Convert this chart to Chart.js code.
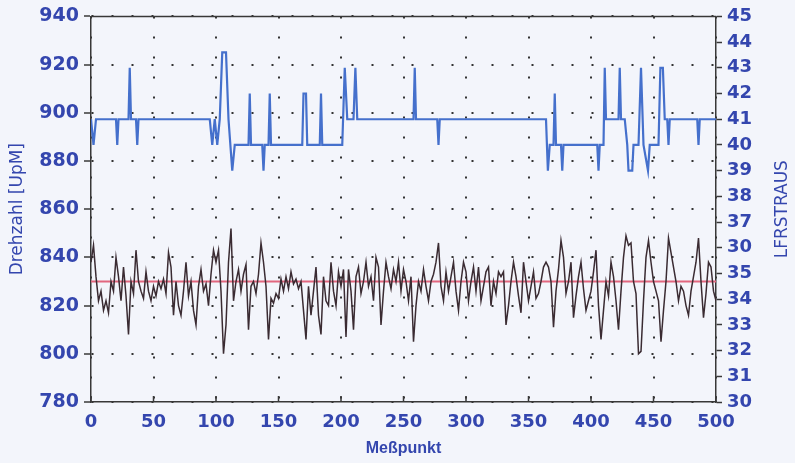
<!DOCTYPE html>
<html>
<head>
<meta charset="utf-8">
<script src="https://cdn.jsdelivr.net/npm/chart.js@4.4.0/dist/chart.umd.min.js"></script>
<style>
  html, body { margin: 0; padding: 0; background: #f3f5fb; }
  #wrap { width: 795px; height: 463px; }
</style>
</head>
<body>
<div id="wrap"><canvas id="rpmChart" width="795" height="463"></canvas></div>
<script>
// --- DATA ---
// Drehzahl, read every 2nd Meßpunkt (0, 2, 4 ... 500)
const sampleStep = 2;
const drehzahl = [
  838, 845, 832, 822, 826, 818, 822, 817, 830, 826, 840, 832, 822, 836, 824, 808, 830, 825, 843, 830, 826, 823, 834, 826, 822, 828,
  824, 830, 827, 831, 825, 842, 836, 816, 830, 820, 816, 826, 838, 824, 830, 818, 812, 828, 835, 826, 829, 820, 833, 843, 838,
  843, 826, 800, 812, 838, 852, 822, 830, 835, 826, 833, 837, 810, 828, 830, 825, 833, 846, 838, 828, 806, 823, 821, 825, 823,
  831, 826, 832, 827, 834, 829, 831, 827, 830, 818, 806, 828, 816, 826, 836, 816, 808, 832, 822, 820, 838, 826, 820, 834, 828,
  835, 807, 835, 826, 810, 832, 836, 825, 830, 838, 828, 832, 822, 840, 836, 812, 826, 838, 832, 827, 835, 830, 838, 826, 835,
  830, 822, 832, 805, 820, 830, 826, 835, 828, 822, 830, 833, 838, 846, 828, 822, 834, 826, 832, 838, 826, 818, 830, 838, 834,
  822, 830, 836, 826, 836, 822, 828, 834, 836, 820, 830, 825, 834, 832, 834, 812, 820, 830, 838, 832, 824, 817, 838, 830, 822,
  828, 834, 823, 825, 830, 836, 838, 836, 830, 811, 826, 835, 847, 840, 825, 830, 838, 815, 824, 832, 838, 827, 818, 822, 826,
  834, 843, 820, 806, 818, 830, 824, 838, 832, 822, 810, 826, 840, 849, 845, 846, 830, 825, 800, 801, 822, 840, 847, 838, 830,
  826, 822, 805, 818, 830, 848, 842, 836, 830, 822, 828, 826, 820, 816, 826, 832, 838, 848, 830, 815, 825, 838, 836, 826, 822
];
const drehzahlMittel = 830;

// LFRSTRAUS: Meßpunkt / Stufe at each change
const lfrX = [0, 2, 4, 20, 21, 22, 30, 31, 32, 36, 37, 38, 95, 97, 99, 101, 103, 105, 108, 110, 113, 115,
  126, 127, 128, 137, 138, 139, 142, 143, 144, 169, 170, 172, 173, 183, 184, 185, 201, 203, 205,
  210, 211.5, 213, 258, 259, 260, 277, 278, 279, 364, 365.5, 367, 370, 371, 372, 376, 377, 378,
  405, 406, 407, 410, 411, 412, 422, 423, 424, 427, 429, 430, 433, 434, 438, 440, 442, 445.6, 447,
  454, 455.5, 457.5, 459, 461, 462, 463, 485, 486, 487, 500];
const lfrY = [41, 40, 41, 41, 40, 41, 41, 43, 41, 41, 40, 41, 41, 40, 41, 40, 41, 43.6, 43.6, 41, 39, 40,
  40, 42, 40, 40, 39, 40, 40, 42, 40, 40, 42, 42, 40, 40, 42, 40, 40, 43, 41,
  41, 43, 41, 41, 43, 41, 41, 40, 41, 41, 39, 40, 40, 42, 40, 40, 39, 40,
  40, 39, 40, 40, 43, 41, 41, 43, 41, 41, 40, 39, 39, 40, 40, 43, 40, 39, 40,
  40, 43, 43, 41, 41, 40, 41, 41, 40, 41, 41];

// Achsen
const xTickValues = [0, 50, 100, 150, 200, 250, 300, 350, 400, 450, 500];
const rightTickLabels = ["30", "31", "32", "33", "34", "35", "30", "37", "38", "39", "40", "41", "42", "43", "44", "45"];
const leftTitle = "Drehzahl [UpM]";
const rightTitle = "LFRSTRAUS";
const bottomTitle = "Meßpunkt";

const blueText = "#3446ae";
const frameColor = "#383838";

// frame top line, inward x ticks and the axis titles
const framePlugin = {
  id: "frame",
  afterDraw(chart) {
    const { ctx, chartArea: a, scales } = chart;
    ctx.save();
    ctx.strokeStyle = frameColor;
    ctx.lineWidth = 1.5;
    ctx.beginPath();
    ctx.moveTo(a.left, a.top);
    ctx.lineTo(a.right, a.top);
    xTickValues.forEach((v) => {
      const px = scales.x.getPixelForValue(v);
      ctx.moveTo(px, a.bottom);
      ctx.lineTo(px, a.bottom - 6);
    });
    ctx.stroke();

    ctx.fillStyle = blueText;
    ctx.textAlign = "center";
    ctx.textBaseline = "middle";
    const midY = (a.top + a.bottom) / 2;
    ctx.font = "17px 'DejaVu Sans'";
    ctx.save();
    ctx.translate(18, midY);
    ctx.rotate(-Math.PI / 2);
    ctx.fillText(leftTitle, 0, 0);
    ctx.restore();
    ctx.save();
    ctx.translate(783, midY);
    ctx.rotate(-Math.PI / 2);
    ctx.fillText(rightTitle, 0, 0);
    ctx.restore();
    ctx.font = "bold 16px 'Liberation Sans'";
    ctx.fillText(bottomTitle, (a.left + a.right) / 2, 449);
    ctx.restore();
  },
};

document.addEventListener("DOMContentLoaded", () => {
  const ctx = document.getElementById("rpmChart");

  const drehzahlPts = drehzahl.map((v, i) => ({ x: i * sampleStep, y: v }));
  const lfrPts = lfrX.map((x, i) => ({ x: x, y: lfrY[i] }));
  const mittelPts = [{ x: 0, y: drehzahlMittel }, { x: 500, y: drehzahlMittel }];

  const tickFont = { family: "'DejaVu Sans'", weight: "bold", size: 19 };
  const gridDots = { color: "#333333", lineWidth: 2 };

  new Chart(ctx, {
    type: "line",
    data: {
      datasets: [
        { label: "Drehzahl", data: drehzahlPts, yAxisID: "y", borderColor: "#3a2b32", borderWidth: 1.5, pointRadius: 0, tension: 0 },
        { label: "LFRSTRAUS", data: lfrPts, yAxisID: "y1", borderColor: "#4570cc", borderWidth: 2.2, pointRadius: 0, tension: 0 },
        { label: "Mittel", data: mittelPts, yAxisID: "y", borderColor: "#e2677f", borderWidth: 2, pointRadius: 0 },
      ],
    },
    options: {
      responsive: false,
      animation: false,
      devicePixelRatio: 1,
      layout: { padding: { top: 15, left: 0, right: 0, bottom: 0 } },
      plugins: { legend: { display: false }, tooltip: { enabled: false } },
      scales: {
        x: {
          type: "linear", min: 0, max: 500,
          ticks: { stepSize: 50, color: blueText, font: { family: "'DejaVu Sans'", weight: "bold", size: 18 }, padding: 10, maxRotation: 0, autoSkip: false },
          grid: { ...gridDots, drawTicks: false },
          border: { color: frameColor, width: 1.5, dash: [2, 18] },
          afterFit: (s) => { s.height = 61; },
        },
        y: {
          position: "left", min: 780, max: 940,
          ticks: { stepSize: 20, color: blueText, font: tickFont, padding: 5 },
          grid: { ...gridDots, tickLength: 7, tickColor: frameColor, tickWidth: 1.5 },
          border: { color: frameColor, width: 1.5, dash: [2, 18] },
          afterFit: (s) => { s.width = 91; },
        },
        y1: {
          position: "right", min: 30, max: 45,
          ticks: { stepSize: 1, color: blueText, font: { family: "'DejaVu Sans'", weight: "bold", size: 18 }, padding: 5, autoSkip: false,
            callback: (v) => rightTickLabels[v - 30] },
          grid: { drawOnChartArea: false, tickLength: 6, tickColor: frameColor, tickWidth: 1.5 },
          border: { color: frameColor, width: 1.5 },
          afterFit: (s) => { s.width = 79; },
        },
      },
    },
    plugins: [framePlugin],
  });
});
</script>
</body>
</html>
